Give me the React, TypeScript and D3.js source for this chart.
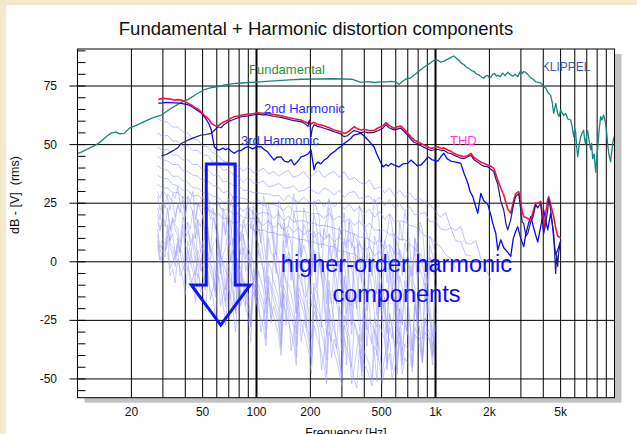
import React from 'react';
import * as d3 from 'd3';

// ---- layout -------------------------------------------------------------
const W = 637;
const H = 434;
const PLOT = { left: 77.5, right: 614.5, top: 49, bottom: 397.7 };
const FONT = '"Liberation Sans", Arial, Helvetica, sans-serif';

// ---- axes ---------------------------------------------------------------
const X_DOMAIN: [number, number] = [10, 10000];
const Y_DOMAIN: [number, number] = [-58, 90.8];
const Y_TICKS = [75, 50, 25, 0, -25, -50];
const X_TICK_VALUES = [20, 50, 100, 200, 500, 1000, 2000, 5000];
const X_TICK_LABELS = ['20', '50', '100', '200', '500', '1k', '2k', '5k'];

// ---- measured curves: [frequency Hz, level dB] --------------------------
const FUNDAMENTAL: [number, number][] = [
  [10, 46.2], [10.5, 46.8], [11.66, 48.5], [12.76, 50.0], [13.6, 51.5], [14.5, 53.5], [15.47, 55.0],
  [16.5, 55.3], [17.15, 54.6], [18.28, 54.8], [19.5, 57.0], [21.3, 58.2], [24.25, 60.2], [26.5, 61.5],
  [29.4, 62.6], [33.4, 65.5], [38.0, 68.0], [41.6, 69.3], [46.1, 71.5], [51.1, 73.5], [55.9, 74.3],
  [61.1, 74.8], [67.8, 75.6], [74.1, 76.0], [82.1, 76.3], [91.0, 76.5], [102.2, 76.7], [113.2, 77.0],
  [132.1, 77.3], [152.2, 77.6], [177.5, 77.9], [215, 78.0], [261, 78.1], [308, 78.0], [340, 77.9],
  [384, 76.6], [420, 76.9], [453, 76.5], [490, 76.8], [529, 76.8], [565, 77.0], [601, 76.8],
  [625, 75.6], [650, 76.8], [684, 78.0], [729, 78.5], [798, 81.0], [861, 83.0], [943, 85.0],
  [990, 86.2], [1031, 86.0], [1070, 85.2], [1114, 85.6], [1172, 86.5], [1220, 87.2], [1266, 87.8],
  [1310, 86.8], [1350, 86.0], [1400, 84.6], [1440, 84.2], [1490, 83.0], [1535, 82.5], [1590, 81.6],
  [1637, 81.3], [1690, 80.2], [1746, 79.8], [1800, 78.9], [1861, 78.3], [1910, 79.3], [1959, 79.5],
  [2000, 78.4], [2037, 78.8], [2090, 80.1], [2144, 80.3], [2190, 79.2], [2228, 79.6], [2300, 79.0],
  [2376, 80.5], [2450, 79.4], [2533, 80.9], [2610, 79.9], [2702, 79.2], [2790, 80.0], [2880, 79.0],
  [2940, 80.4], [2994, 81.5], [3050, 80.3], [3111, 81.2], [3190, 80.8], [3275, 80.0], [3340, 79.2],
  [3404, 78.5], [3500, 78.0], [3629, 76.8], [3750, 76.6], [3869, 76.3], [3950, 75.6], [4022, 74.7],
  [4120, 74.2], [4234, 72.5], [4320, 71.6], [4400, 71.0], [4490, 68.0], [4573, 63.3], [4700, 67.6],
  [4815, 63.3], [4900, 62.0], [5004, 64.8], [5100, 63.5], [5204, 62.5], [5339, 63.3], [5479, 61.0],
  [5694, 60.5], [5800, 57.6], [5918, 53.4], [6000, 56.8], [6071, 55.0], [6150, 49.0], [6230, 44.8],
  [6350, 50.0], [6474, 53.4], [6600, 55.0], [6728, 56.2], [6800, 52.5], [6902, 50.0], [7000, 55.0],
  [7081, 56.0], [7200, 52.0], [7360, 47.7], [7451, 50.5], [7551, 44.0], [7700, 46.0], [7848, 38.3],
  [7950, 44.0], [8051, 48.0], [8200, 56.0], [8368, 61.9], [8500, 60.5], [8696, 62.6], [8800, 61.0],
  [8922, 59.0], [9050, 55.0], [9155, 50.0], [9300, 46.0], [9515, 42.6], [9650, 47.0], [9800, 51.0],
  [9888, 52.6], [10000, 53.5],
];

const THD: [number, number][] = [
  [28.3, 69.3], [30, 69.8], [31.4, 69.6], [33, 69.4], [34.7, 69.0], [36.5, 69.2], [38, 69.0],
  [40, 68.3], [41.6, 67.6], [43.5, 66.8], [44.9, 66.0], [47, 65.2], [49.1, 64.0], [51.1, 62.5],
  [53, 61.5], [54.5, 60.5], [56, 59.0], [58, 58.3], [59.6, 57.9], [61.9, 58.3], [63.5, 59.0],
  [66, 59.8], [69.5, 60.5], [72, 61.3], [75.1, 61.9], [82.1, 62.5], [89.9, 63.0], [95, 63.2],
  [102.2, 63.6], [108, 63.4], [113, 63.5], [125.5, 62.8], [137, 62.3], [150, 61.6], [162, 61.0],
  [177, 60.5], [186, 59.8], [194, 59.0], [198, 60.2], [201.8, 58.8], [205, 59.2], [209.7, 59.5],
  [218, 58.7], [229.6, 58.4], [238, 58.0], [255, 57.2], [271, 56.2], [285, 55.8], [296, 55.5],
  [308, 54.8], [322, 55.2], [337, 56.5], [350.7, 57.6], [366, 56.8], [383.6, 56.2], [400, 56.6],
  [420, 56.0], [453, 56.0], [480, 57.2], [508, 58.0], [529, 59.4], [550, 58.2], [586, 57.0],
  [610, 57.6], [641, 57.9], [670, 56.5], [701, 54.8], [730, 53.2], [758, 52.0], [790, 51.3],
  [829, 50.5], [880, 49.5], [943, 48.4], [990, 48.8], [1031, 49.1], [1080, 48.3], [1114, 48.6],
  [1172, 47.7], [1218, 47.2], [1266, 46.3], [1330, 45.6], [1385, 45.2], [1440, 44.8], [1516, 45.4],
  [1575, 46.3], [1640, 44.5], [1723, 43.4], [1791, 42.6], [1861, 42.0], [1959, 41.3], [2037, 40.8],
  [2117, 39.9], [2171, 37.5], [2228, 34.9], [2315, 31.5], [2407, 28.5], [2480, 25.0], [2533, 22.5],
  [2633, 20.7], [2720, 25.5], [2808, 29.2], [2917, 29.9], [2994, 25.5], [3050, 21.5], [3111, 19.3],
  [3275, 18.5], [3404, 17.8], [3500, 21.0], [3629, 25.2], [3724, 25.0], [3869, 25.7], [3950, 20.5],
  [4022, 13.6], [4120, 20.0], [4234, 26.5], [4288, 27.8], [4400, 24.5], [4573, 19.3], [4692, 14.5],
  [4815, 11.0], [4877, 10.7], [5004, 10.2],
];

const SECOND_HARMONIC: [number, number][] = [
  [29.4, 45.2], [31.4, 45.8], [33.4, 47.0], [34.7, 47.7], [36.5, 48.8], [38, 50.5], [41.6, 52.0],
  [44.9, 53.0], [49.1, 54.1], [52, 54.3], [55.9, 54.8], [58, 56.0], [61.1, 57.6], [63.5, 57.2],
  [66, 58.6], [69.5, 59.8], [75.1, 60.8], [82.1, 61.9], [89.9, 62.3], [95, 62.6], [102.2, 63.0],
  [108, 62.7], [113, 62.8], [125.5, 62.0], [137, 61.6], [150, 60.9], [162, 60.2], [177, 59.8],
  [186, 59.0], [194, 57.8], [198, 60.5], [201.8, 53.5], [205, 57.0], [209.7, 58.5], [218, 57.8],
  [229.6, 57.5], [238, 57.0], [255, 56.3], [271, 55.5], [285, 55.0], [296, 54.5], [308, 53.4],
  [322, 53.8], [337, 55.0], [350.7, 56.0], [366, 55.6], [383.6, 55.0], [400, 55.5], [420, 55.0],
  [453, 55.2], [480, 56.0], [508, 57.0], [529, 58.5], [550, 57.2], [586, 56.3], [610, 56.6],
  [641, 57.0], [670, 55.5], [701, 54.0], [730, 52.2], [758, 51.0], [790, 50.5], [829, 49.5],
  [880, 48.5], [943, 47.5], [990, 47.8], [1031, 48.0], [1080, 47.4], [1114, 47.6], [1172, 46.5],
  [1218, 46.2], [1266, 45.5], [1330, 44.8], [1385, 44.2], [1440, 44.0], [1516, 44.8], [1575, 45.5],
  [1640, 43.5], [1723, 42.5], [1791, 41.5], [1861, 40.8], [1959, 40.5], [2037, 39.5], [2117, 38.5],
  [2171, 35.5], [2228, 33.0], [2315, 26.0], [2407, 22.0], [2480, 16.0], [2533, 13.6], [2633, 18.0],
  [2720, 24.0], [2808, 28.0], [2917, 29.0], [2994, 22.0], [3050, 17.0], [3111, 16.4], [3200, 11.0],
  [3275, 12.0], [3404, 17.0], [3500, 19.0], [3629, 24.5], [3724, 23.0], [3869, 25.0], [3950, 18.0],
  [4022, 12.0], [4120, 16.0], [4234, 22.0], [4288, 27.0], [4400, 22.0], [4514, 15.0], [4573, 12.0],
  [4692, -5.0], [4750, 3.0], [4815, -2.0], [4877, 4.0], [5004, 9.0],
];

const THIRD_HARMONIC: [number, number][] = [
  [28.3, 67.6], [30, 67.8], [31.4, 68.0], [33, 67.9], [35, 67.8], [38, 67.6], [41.6, 67.0],
  [44.9, 65.5], [47, 64.5], [49.1, 63.5], [51.1, 61.9], [53, 60.2], [54.5, 58.5], [55.9, 56.2],
  [57, 52.5], [58.1, 49.1], [60, 48.0], [61.9, 47.7], [65, 48.5], [67, 47.8], [69.5, 48.4],
  [72, 47.3], [75.1, 46.3], [78, 47.2], [82, 47.5], [86, 48.6], [89.9, 49.1], [95, 48.2],
  [100, 49.0], [106.2, 49.1], [110, 48.0], [115, 47.0], [120, 45.2], [125.5, 43.4], [130, 44.6],
  [137.3, 44.8], [143, 43.0], [150, 42.5], [156, 43.6], [162.3, 41.3], [170, 42.8], [177.5, 44.8],
  [185, 45.2], [194, 46.0], [201.8, 47.7], [205, 44.0], [209.7, 39.2], [214, 41.5], [220, 42.5],
  [229, 41.8], [238.5, 43.4], [248, 44.2], [260, 46.0], [272, 47.0], [285.5, 48.4], [296, 49.2],
  [308.3, 50.5], [322, 51.5], [337.5, 52.7], [343, 53.5], [350.7, 54.1], [366, 54.5], [383.6, 54.8],
  [400, 53.6], [419.6, 52.0], [436, 50.5], [453.4, 49.1], [470, 46.0], [490, 43.0], [508.8, 40.5],
  [530, 41.5], [545, 40.8], [563.8, 42.0], [590, 41.2], [624.6, 40.5], [660, 41.8], [700, 42.0],
  [729, 43.4], [760, 42.2], [790, 41.0], [829, 41.3], [870, 43.0], [907, 44.8], [960, 43.5],
  [1031, 43.0], [1070, 44.8], [1114, 46.3], [1160, 44.0], [1218, 43.0], [1300, 42.5], [1385, 42.0],
  [1440, 38.0], [1516, 33.5], [1560, 30.0], [1616, 27.8], [1670, 24.0], [1723, 20.7], [1791, 29.2],
  [1861, 26.0], [1959, 24.5], [2037, 20.0], [2089, 16.4], [2171, 12.2], [2228, 5.0], [2315, 9.4],
  [2407, 6.0], [2533, 4.0], [2633, 2.3], [2720, 10.0], [2808, 13.0], [2880, 15.0], [2994, 10.0],
  [3111, 6.5], [3200, 12.0], [3300, 16.0], [3404, 19.3], [3550, 14.0], [3724, 8.4], [3869, 15.0],
  [4022, 22.1], [4120, 18.0], [4234, 13.6], [4400, 20.7], [4514, 15.0], [4573, 10.0], [4692, 3.0],
  [4815, 5.0], [5004, 9.0],
];

type Lvl = number | null;

// ---- low orders (4th ... 10th) on a coarse frequency grid ----------------
const HH_FREQ = [
  28, 29.9, 31.9, 34.0, 36.3, 38.7, 41.3, 44.1, 47.0, 50.2,
  53.5, 57.1, 61.0, 65.0, 69.4, 74.1, 79.0, 84.3, 90.0, 96.0,
  102, 109, 117, 125, 133, 142, 151, 161, 172, 184,
  196, 209, 223, 238, 254, 271, 290, 309, 330, 352,
  375, 401, 427, 456, 487, 519, 554, 591, 631, 673,
  718, 766, 818, 873, 931, 1000, 1067, 1139, 1215, 1297,
  1384, 1477, 1576, 1682, 1795, 1915, 2044,
];

const HH_UPPER: Lvl[][] = [
  [61, 60, 59.5, 57.5, 57.5, 55.5, 55, 52.5, 52, 49.5, 49, 46.5, 45.5, 43, 42.5, 40.5, 41, 38.5, 40.5, 38,
    38.5, 40, 37.5, 38.5, 36.5, 38, 39, 36, 37, 38.5, 35.5, 37.5, 39, 36, 37.5, 38.5, 36, 38.5, 35, 36,
    34, 33, 35, 31, 32, 29.5, 31.5, 28, 30.5, 27.5, 29.5, 26.5, 27, 25, 24.5, 21.5, 19, 21, 14.5, 13.5,
    15, 8, 7.5, 9, 1, -3, -8],
  [55, 53.5, 54, 51.5, 51.5, 49.5, 49.5, 47.5, 47.5, 45.5, 45.5, 42.5, 42.5, 39, 39.5, 37, 36.5, 34, 36, 33.5,
    33.5, 34.5, 32, 32.5, 33.5, 31.5, 31.5, 32.5, 30, 30.5, 32, 30, 29, 31.5, 30.5, 28.5, 30.5, 27.5, 29.5, 30,
    27, 27.5, 28, 25.5, 27.5, 24, 26.5, 23, 25, 21.5, 23.5, 20, 20.5, 21, 17, 17.5, 14, 13.5, 14.5, 9,
    8.5, 3, 2.5],
  [49, 47.5, 48, 45.5, 45.5, 43.5, 43.5, 41.5, 41.5, 39, 39.5, 37, 37, 34, 34.5, 32.5, 32.5, 30.5, 30.5, 29.5,
    29.5, 29, 29, 28, 28.5, 26, 28.5, 26.5, 25.5, 27.5, 25.5, 25, 26.5, 23.5, 26, 23.5, 25.5, 22.5, 24.5, 21.5,
    23.5, 20.5, 22.5, 19, 21.5, 18, 20.5, 17, 17.5, 17, 15.5, 15, 13.5, 11, 10.5, 8, 6.5, 3, 1.5, -3],
  [45, 43.5, 43, 41.5, 41.5, 39, 38.5, 37, 36.5, 34.5, 34.5, 32.5, 32, 29.5, 30, 27.5, 27.5, 27, 26.5, 24.5,
    26.5, 24, 24.5, 24.5, 23.5, 22, 24, 21.5, 21.5, 21.5, 21, 20.5, 20.5, 18.5, 20.5, 18, 19.5, 17, 18.5, 15.5,
    17.5, 14.5, 16.5, 13.5, 13.5, 13.5, 11.5, 11.5, 9.5, 9.5, 7.5, 5.5, 3.5, 0.5, -1.5, -4],
  [41, 39.5, 39, 36.5, 36.5, 34.5, 34, 31.5, 31.5, 29.5, 29.5, 28, 27.5, 25.5, 25.5, 23.5, 24, 21.5, 23.5, 20.5,
    20.5, 21, 20.5, 18.5, 20.5, 17.5, 19.5, 17, 17.5, 17.5, 16.5, 16.5, 15.5, 15.5, 15, 14.5, 13.5, 13.5, 12.5, 12,
    10.5, 10.5, 9.5, 7.5, 9.5, 5.5, 7.5, 3.5, 3.5, -0.5, -2],
  [37, 35.5, 35.5, 33, 32.5, 30.5, 30.5, 28, 28.5, 26.5, 26.5, 24.5, 24.5, 22, 22.5, 20.5, 20.5, 19, 18.5, 18.5,
    17.5, 15.5, 17.5, 14.5, 16.5, 13.5, 15.5, 12.5, 14.5, 11.5, 13.5, 10.5, 12.5, 9.5, 11.5, 8.5, 10.5, 7.5, 9.5, 5.5,
    7.5, 4.5, 6.5, 2.5, 4.5, 0.5, -1],
  [33, 31.5, 31.5, 29.5, 29.5, 27.5, 27, 24.5, 24.5, 23, 22.5, 20.5, 20.5, 18.5, 18.5, 16.5, 17, 14.5, 16.5, 13.5,
    13.5, 13.5, 12.5, 12.5, 11.5, 11.5, 10.5, 10.5, 9.5, 9.5, 8.5, 8.5, 7.5, 7.5, 6.5, 6.5, 4.5, 4.5, 3.5, 3.5,
    1.5, 1.5, -1],
];

// ---- high orders (11th and up) on a fine frequency grid ------------------
const HH_FINE_FREQ = [
  28.0, 28.9, 29.9, 30.9, 31.9, 32.9, 34.0, 35.1, 36.3, 37.5,
  38.7, 40.0, 41.3, 42.7, 44.1, 45.5, 47.0, 48.6, 50.2, 51.8,
  53.5, 55.3, 57.1, 59.0, 60.9, 62.9, 65.0, 67.2, 69.4, 71.7,
  74.0, 76.5, 79.0, 81.6, 84.3, 87.1, 90.0, 92.9, 96.0, 99.2,
  102.4, 105.8, 109.3, 112.9, 116.6, 120.5, 124.5, 128.6, 132.8, 137.2,
  141.7, 146.4, 151.2, 156.2, 161.3, 166.7, 172.2, 177.8, 183.7, 189.8,
  196.0, 202.5, 209.2, 216.1, 223.2, 230.6, 238.2, 246.0, 254.1, 262.5,
  271.2, 280.2, 289.4, 299.0, 308.8, 319.0, 329.5, 340.4, 351.6, 363.2,
  375.2, 387.6, 400.4, 413.6, 427.3, 441.4, 455.9, 471.0, 486.5, 502.6,
  519.2, 536.3, 554.0, 572.3, 591.2, 610.7, 630.8, 651.7, 673.2, 695.4,
  718.3, 742.0, 766.5, 791.8, 818.0, 845.0, 872.8, 901.6, 931.4, 962.1,
  993.9,
];

const HH_LOWER: Lvl[][] = [
  [30, 27, 31, 29, 27, 22, 29, 27, 32, 24, 26, 19, 28, 26, 30, 18, 24, 25, 28, 20,
    29, 21, 23, 14, 26, 23, 21, 12, 27, 24, 28, 22, 20, 9, 17, 19, 25, 14, 24, 21,
    18, 8, 28, 24, 20, 17, 12, 3, 26, 23, 21, 8, 17, 20, 29, 24, 13, 2, 23, 19,
    11, 1, 26, 23, 20, 6, 14, 18, 27, 22, 15, 2, 11, 14, 21, 6, 18, 15, 7, -4,
    24, 20, 13, 0, 10, 16, 27, 24, 15, -3, 8, 12, 20, 15, 4, -8, 17, 9, 21, 17,
    6, -6, 10, 3, 17, 14, 1, -9, 11, 8, 4],
  [28, 22, 25, 23, 29, 27, 26, 19, 24, 21, 28, 20, 26, 24, 21, 14, 25, 22, 19, 11,
    24, 18, 22, 20, 12, 2, 23, 19, 16, 7, 25, 20, 11, 3, 18, 14, 9, -2, 22, 13,
    19, 16, 10, 1, 24, 20, 7, -5, 22, 14, 17, 12, 4, -8, 21, 17, 12, 3, 16, 13,
    8, -6, 20, 16, 5, -7, 14, 10, 23, 19, 7, -4, 15, 11, 1, -12, 17, 6, 12, 9,
    3, -9, 16, 12, 8, 4, -2, -14, 14, 2, 9, 5, -3, -15, 12, 8, 5, -6, 8, 4,
    -1, -13, 10, 6, 2, -1, -6, -17, 7, 3, 0],
  [23, 18, 26, 23, 22, 14, 19, 17, 25, 22, 21, 12, 17, 14, 22, 10, 18, 15, 20, 9,
    13, 4, 19, 15, 8, -2, 17, 11, 21, 16, 6, -5, 15, 12, 10, 6, 3, -8, 16, 9,
    14, 10, 2, -9, 18, 14, 8, 3, 1, -11, 15, 6, 12, 8, -4, -16, 11, 2, 7, 3,
    -3, -14, 13, 10, 4, -1, -6, -18, 12, 1, 8, 4, -2, -13, 10, 4, -7, -19, 6, -4,
    9, 5, -5, -17, 4, -6, 11, 7, -8, -20, 2, -9, 7, 2, -9, -21, 5, 1, -2, -14,
    -6, -3, 6, -8, -3, -7, -10, -22, 2, -3, -7],
  [20, 14, 17, 15, 23, 13, 18, 16, 14, 8, 19, 17, 16, 7, 12, 10, 18, 4, 9, 11,
    15, 1, 7, 9, 13, -5, 3, 6, 14, 0, 10, 4, -1, -10, 12, 1, 6, 3, 0, -12,
    8, 2, -4, -14, 10, 4, 2, -3, -7, -19, 9, 0, 4, 1, -10, -22, 6, 0, -3, -15,
    -9, -4, 5, -11, 0, -6, -13, -26, 6, 1, -5, -18, -1, -7, -14, -27, 4, -3, -8, -20,
    -3, -9, -16, -29, 2, -4, -9, -23, -4, -9, -17, -30, 1, -5, -12, -26, -6, -11, -18, -31,
    -2, -7, -11, -24, -15, -12, -5, -8, -19, -32, -10],
  [17, 13, 20, 16, 14, 9, 18, 14, 11, 4, 16, 10, 13, 9, 8, 0, 14, 8, 5, -3,
    11, 6, 3, -6, 9, 3, -2, -12, 10, 0, 5, 1, -5, -15, 6, -4, 1, -3, -8, -19,
    5, 0, -3, -18, -11, -24, 4, -2, -6, -20, -14, -27, 2, -3, -9, -22, 1, -5, -15, -28,
    -4, -19, -11, -25, 3, -4, -17, -31, -8, -18, -2, -8, -19, -33, -6, -22, -13, -27, 0, -6,
    -18, -34, -10, -21, -5, -12, -22, -36, -9, -26, -15, -31, -3, -10, -20, -35, -12, -27, -8, -14,
    -24, -38, -13, -30, -17, -33, -9, -16, -25, -39, -16],
  [14, 6, 10, 7, 16, 9, 12, 3, 8, 4, 13, 7, 5, -1, 11, 5, 2, -4, 8, 1,
    4, -1, -3, -12, 7, 2, 0, -4, -6, -16, 5, 0, -2, -6, -9, -19, 3, -2, -7, -18,
    -4, -8, -12, -22, 0, -3, -8, -12, -15, -27, -3, -8, -10, -14, -19, -31, -5, -9, -13, -17,
    -21, -33, -9, -13, -16, -28, -4, -9, -20, -34, -12, -17, -25, -38, -8, -13, -18, -31, -14, -19,
    -27, -39, -11, -15, -19, -35, -24, -28, -9, -14, -22, -37, -28, -33, -15, -30, -20, -26, -12, -17,
    -26, -38, -18, -24, -30, -40, -14, -19, -23, -36, -29],
  [12, 4, 8, 5, 13, 8, 6, 1, 10, 5, 3, -3, 9, 4, 0, -6, 5, 1, -2, -9,
    2, -1, -5, -13, 4, -2, -8, -17, -1, -5, -11, -21, 1, -3, -7, -11, -14, -25, -3, -8,
    -10, -14, -17, -29, -6, -10, -13, -17, -20, -32, -4, -9, -16, -20, -24, -36, -11, -15, -18, -23,
    -27, -39, -14, -19, -22, -26, -30, -42, -12, -18, -25, -37, -19, -24, -31, -44, -15, -21, -26, -29,
    -33, -45, -18, -36, -24, -27, -29, -40, -14, -22, -31, -43, -22, -28, -35, -46, -20, -38, -27, -30,
    -32, -44, -19, -25, -29, -41, -24, -30, -34, -44, -26],
  [9, 1, 5, 2, 11, 6, 3, -2, 7, 3, -1, -5, 5, 0, -4, -9, 2, -1, -6, -12,
    -1, -4, -8, -15, 1, -3, -11, -19, -4, -8, -14, -22, -2, -5, -9, -13, -17, -28, -6, -9,
    -13, -17, -21, -33, -8, -12, -16, -20, -24, -37, -10, -14, -19, -24, -28, -41, -14, -18, -22, -27,
    -31, -44, -18, -22, -26, -30, -35, -48, -20, -25, -29, -33, -38, -50, -23, -28, -32, -45, -26, -31,
    -36, -49, -24, -28, -31, -35, -40, -51, -27, -30, -33, -46, -22, -29, -37, -48, -30, -42, -25, -30,
    -35, -45, -28, -31, -33, -43, -24, -28, -31, -40, -27],
  [7, 0, 3, 5, 9, -3, 0, 2, 5, -6, -3, -1, 2, -10, -7, -4, -1, -13, -9, -7,
    -4, -16, -11, -6, -2, -19, -14, -10, -7, -22, -17, -11, -5, -19, -12, -16, -20, -27, -9, -12,
    -16, -30, -24, -17, -11, -26, -19, -23, -27, -35, -13, -17, -22, -38, -31, -24, -17, -34, -25, -29,
    -34, -42, -21, -25, -30, -46, -39, -31, -24, -41, -33, -37, -42, -49, -27, -31, -36, -52, -45, -38,
    -31, -47, -38, -41, -44, -50, -29, -33, -37, -48, -41, -37, -33, -46, -39, -34, -28, -44, -35, -37,
    -40, -47, -31, -33, -36, -43, -30, -32, -34, -41, -28],
  [null, null, null, null, 4, -6, -3, -9, 1, -3, -7, -14, -2, -6, -10, -17, -5, -9, -13, -21,
    -8, -12, -15, -24, -6, -10, -18, -27, -11, -15, -21, -30, -9, -13, -16, -20, -24, -34, -13, -16,
    -20, -24, -28, -36, -15, -19, -23, -27, -31, -40, -18, -22, -26, -30, -35, -44, -22, -26, -30, -34,
    -39, -48, -27, -31, -35, -39, -44, -52, -30, -34, -38, -42, -47, -53, -33, -37, -41, -45, -50, -54,
    -38, -41, -44, -46, -49, -53, -36, -39, -43, -52, -46, -44, -39, -50, -45, -40, -34, -48, -41, -43,
    -44],
];

// ---- text labels placed in data coordinates [text, Hz, dB, colour] ------
const CURVE_LABELS: [string, number, number, string][] = [
  ['Fundamental', 90.8, 80.1, '#2f8f3a'],
  ['2nd Harmonic', 110, 63.4, '#2e2eff'],
  ['3rd Harmonic', 81.9, 49.8, '#2233dd'],
  ['THD', 1205, 49.8, '#ff3ddf'],
];
const NOTE_LINES = ['higher-order harmonic', 'components'];
const NOTE_POS = { hz: 605, dbLine1: -4.2, dbLine2: -17.0 };

// downward arrow outline, in data units
const ARROW = {
  shaftLeft: 52.4, shaftRight: 76, headLeft: 43.2, headRight: 92.2, tip: 63.1,
  top: 41.7, neck: -9.9, point: -27,
};

export default function App() {
  const x = d3.scaleLog().domain(X_DOMAIN).range([PLOT.left, PLOT.right]);
  const y = d3.scaleLinear().domain(Y_DOMAIN).range([PLOT.bottom, PLOT.top]);

  const line = d3
    .line<[number, Lvl]>()
    .defined((d) => d[1] !== null && d[1] !== undefined)
    .x((d) => x(d[0]))
    .y((d) => y(d[1] as number));

  const onGrid = (freqs: number[], vals: Lvl[]) =>
    freqs.map((f, i) => [f, i < vals.length ? vals[i] : null] as [number, Lvl]);

  // vertical grid: 2..9 per decade plus the decades
  const gridFreqs: number[] = [];
  [10, 100, 1000].forEach((dec) => {
    for (let k = 2; k <= 9; k++) gridFreqs.push(k * dec);
  });
  gridFreqs.push(100, 1000);
  const thick = new Set([100, 1000]);

  const minorDb = d3.range(-55, 91, 5);

  const arrowPts: [number, number][] = [
    [ARROW.shaftLeft, ARROW.top],
    [ARROW.shaftRight, ARROW.top],
    [ARROW.shaftRight, ARROW.neck],
    [ARROW.headRight, ARROW.neck],
    [ARROW.tip, ARROW.point],
    [ARROW.headLeft, ARROW.neck],
    [ARROW.shaftLeft, ARROW.neck],
  ];
  const arrowPath = 'M' + arrowPts.map(([f, db]) => `${x(f)},${y(db)}`).join('L') + 'Z';

  const pw = PLOT.right - PLOT.left;
  const ph = PLOT.bottom - PLOT.top;

  return (
    <svg
      width={W}
      height={H}
      style={{ position: 'absolute', left: 0, top: 0, display: 'block' }}
      fontFamily={FONT}
    >
      <defs>
        <clipPath id="plot-clip">
          <rect x={PLOT.left} y={PLOT.top} width={pw} height={ph} />
        </clipPath>
      </defs>

      {/* page background */}
      <rect x={0} y={0} width={W} height={H} fill="#f3eacd" />
      <rect x={6} y={5} width={W - 6} height={H - 5} fill="#ffffff" />

      {/* title */}
      <text x={316} y={34.5} fontSize={18.5} textAnchor="middle" fill="#111">
        Fundamental + Harmonic distortion components
      </text>

      {/* drop shadow and plot background */}
      <rect x={PLOT.left + 7} y={PLOT.top + 5} width={pw} height={ph} fill="#c3c3c3" />
      <rect x={PLOT.left} y={PLOT.top} width={pw} height={ph} fill="#ffffff" />

      {/* grid */}
      <g stroke="#000" fill="none">
        {gridFreqs.map((f) => (
          <line
            key={'v' + f}
            x1={x(f)}
            x2={x(f)}
            y1={PLOT.top}
            y2={PLOT.bottom}
            strokeWidth={thick.has(f) ? 2 : 1}
          />
        ))}
        {Y_TICKS.map((v) => (
          <line key={'h' + v} x1={PLOT.left - 8} x2={PLOT.right} y1={y(v)} y2={y(v)} strokeWidth={1} />
        ))}
        {minorDb.map((v) => (
          <line key={'m' + v} x1={PLOT.left} x2={PLOT.left + 8} y1={y(v)} y2={y(v)} strokeWidth={1} />
        ))}
      </g>

      {/* curves */}
      <g clipPath="url(#plot-clip)" fill="none" strokeLinejoin="round">
        <g stroke="#9a9aff" strokeOpacity={0.5} strokeWidth={1}>
          {HH_LOWER.map((vals, i) => (
            <path key={'lo' + i} d={line(onGrid(HH_FINE_FREQ, vals)) || ''} />
          ))}
        </g>
        <g stroke="#8a8aff" strokeOpacity={0.55} strokeWidth={1}>
          {HH_UPPER.map((vals, i) => (
            <path key={'up' + i} d={line(onGrid(HH_FREQ, vals)) || ''} />
          ))}
        </g>
        <path d={line(FUNDAMENTAL) || ''} stroke="#1c857d" strokeWidth={1.3} />
        <path d={line(THIRD_HARMONIC) || ''} stroke="#0a0af0" strokeWidth={1.3} />
        <path d={line(THD) || ''} stroke="#ff1040" strokeWidth={1.6} />
        <path d={line(SECOND_HARMONIC) || ''} stroke="#1c1c86" strokeWidth={1.2} />
      </g>

      {/* curve labels */}
      {CURVE_LABELS.map(([t, f, db, c]) => (
        <text key={t} x={x(f)} y={y(db)} fontSize={13} fill={c}>
          {t}
        </text>
      ))}
      <text x={x(3922)} y={y(81.5)} fontSize={12} fill="#4a58a2">
        KLIPPEL
      </text>

      {/* annotation */}
      <path d={arrowPath} fill="none" stroke="#0a14ff" strokeWidth={3} strokeLinejoin="miter" />
      <text x={x(NOTE_POS.hz)} y={y(NOTE_POS.dbLine1)} fontSize={23.5} textAnchor="middle" fill="#0a0aff">
        {NOTE_LINES[0]}
      </text>
      <text x={x(NOTE_POS.hz)} y={y(NOTE_POS.dbLine2)} fontSize={23.5} textAnchor="middle" fill="#0a0aff">
        {NOTE_LINES[1]}
      </text>

      {/* frame */}
      <rect x={PLOT.left} y={PLOT.top} width={pw} height={ph} fill="none" stroke="#000" strokeWidth={1} />

      {/* y axis labels */}
      {Y_TICKS.map((v) => (
        <text key={'yl' + v} x={57} y={y(v) + 4} fontSize={12} textAnchor="end" fill="#111">
          {v}
        </text>
      ))}
      <text
        transform="translate(19,195) rotate(-90)"
        fontSize={12.5}
        textAnchor="middle"
        fill="#111"
        style={{ whiteSpace: 'pre' }}
      >
        dB - [V]  (rms)
      </text>

      {/* x axis labels */}
      {X_TICK_VALUES.map((f, i) => (
        <text key={'xl' + f} x={x(f)} y={416} fontSize={12} textAnchor="middle" fill="#111">
          {X_TICK_LABELS[i]}
        </text>
      ))}
      <text x={(PLOT.left + PLOT.right) / 2} y={437} fontSize={12} textAnchor="middle" fill="#111">
        Frequency [Hz]
      </text>
    </svg>
  );
}
